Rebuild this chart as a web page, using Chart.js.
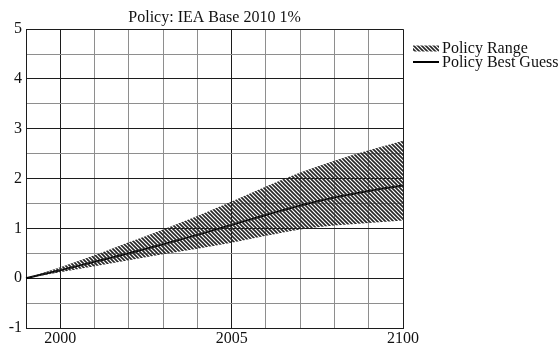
<!DOCTYPE html>
<html>
<head>
<meta charset="utf-8">
<script src="https://cdn.jsdelivr.net/npm/chart.js@4/dist/chart.umd.min.js"></script>
<style>
  html, body { margin: 0; padding: 0; background: #fff; }
  #wrap { width: 560px; height: 348px; }
</style>
</head>
<body>
<div id="wrap"><canvas id="c" width="560" height="348"></canvas></div>
<script>
// Decade steps along the horizontal axis
const years = ['1990', '2000', '2010', '2020', '2030', '2040', '2050', '2060', '2070', '2080', '2090', '2100'];
// Labels printed under the axis
const tickLabels = ['', '2000', '', '', '', '', '2005', '', '', '', '', '2100'];

// Central estimate
const bestGuess = [0, 0.16, 0.33, 0.50, 0.68, 0.87, 1.07, 1.27, 1.46, 1.62, 1.75, 1.86];
// Lower and upper bounds of the range
const rangeLow  = [0, 0.12, 0.24, 0.36, 0.48, 0.59, 0.71, 0.85, 0.98, 1.06, 1.11, 1.16];
const rangeHigh = [0, 0.22, 0.46, 0.72, 0.98, 1.25, 1.54, 1.84, 2.12, 2.36, 2.57, 2.76];

const SERIF = '"Liberation Serif", "Times New Roman", serif';
const DARK = '#1c1c1c';
const LIGHT = '#8e8e8e';

// Diagonal hatch used for the range band
function makeHatch() {
  const t = document.createElement('canvas');
  t.width = 4; t.height = 4;
  const g = t.getContext('2d');
  g.strokeStyle = '#262626';
  g.lineWidth = 1.6;
  g.beginPath();
  g.moveTo(0, 0); g.lineTo(4, 4);
  g.moveTo(-2, 2); g.lineTo(2, 6);
  g.moveTo(2, -2); g.lineTo(6, 2);
  g.stroke();
  return g.createPattern(t, 'repeat');
}
const hatch = makeHatch();

// Legend drawn to the right of the plot
const sideLegend = {
  id: 'sideLegend',
  afterDraw(chart) {
    const ctx = chart.ctx;
    const x0 = chart.chartArea.right + 10;
    const items = chart.data.datasets.filter(d => d.label);
    ctx.save();
    ctx.font = '16px ' + SERIF;
    ctx.textBaseline = 'alphabetic';
    items.forEach((d, i) => {
      const y = 48.5 + i * 13.5;
      if (d.fill) {
        ctx.fillStyle = d.backgroundColor;
        ctx.fillRect(x0, y - 3, 26, 6);
      } else {
        ctx.strokeStyle = d.borderColor;
        ctx.lineWidth = 2;
        ctx.beginPath();
        ctx.moveTo(x0, y);
        ctx.lineTo(x0 + 26, y);
        ctx.stroke();
      }
      ctx.fillStyle = '#111';
      ctx.fillText(d.label, x0 + 29, y + 4.5);
    });
    ctx.restore();
  }
};

new Chart(document.getElementById('c'), {
  type: 'line',
  data: {
    labels: years,
    datasets: [
      {
        data: rangeLow,
        borderWidth: 0,
        borderColor: 'rgba(0,0,0,0)',
        pointRadius: 0,
        fill: false,
        cubicInterpolationMode: 'monotone'
      },
      {
        label: 'Policy Range',
        data: rangeHigh,
        borderWidth: 0,
        borderColor: 'rgba(0,0,0,0)',
        backgroundColor: hatch,
        pointRadius: 0,
        fill: '-1',
        cubicInterpolationMode: 'monotone'
      },
      {
        label: 'Policy Best Guess',
        data: bestGuess,
        borderColor: '#000',
        borderWidth: 2,
        pointRadius: 0,
        fill: false,
        cubicInterpolationMode: 'monotone'
      }
    ]
  },
  options: {
    responsive: false,
    animation: false,
    layout: { padding: { right: 157 } },
    plugins: {
      legend: { display: false },
      tooltip: { enabled: false },
      title: {
        display: true,
        fullSize: false,
        text: 'Policy: IEA Base 2010 1%',
        color: '#111',
        font: { family: SERIF, size: 16, weight: 'normal' },
        padding: { top: 8, bottom: 2 }
      }
    },
    scales: {
      x: {
        type: 'category',
        offset: false,
        afterFit(scale) { scale.height = 20; },
        grid: {
          drawTicks: false,
          lineWidth: 1,
          color: c => (c.index === 0 || c.index === 1 || c.index === 6 || c.index === 11) ? DARK : LIGHT
        },
        border: { display: true, color: DARK, width: 1 },
        ticks: {
          autoSkip: false,
          maxRotation: 0,
          padding: 1,
          color: '#111',
          font: { family: SERIF, size: 16 },
          callback: (v, i) => tickLabels[i]
        }
      },
      y: {
        min: -1,
        max: 5,
        afterFit(scale) { scale.width = 26; },
        grid: {
          drawTicks: false,
          lineWidth: 1,
          color: c => Number.isInteger(c.tick.value) ? DARK : LIGHT
        },
        border: { display: true, color: DARK, width: 1 },
        ticks: {
          stepSize: 0.5,
          padding: 4,
          color: '#111',
          font: { family: SERIF, size: 16 },
          callback: v => Number.isInteger(v) ? String(v) : ''
        }
      }
    }
  },
  plugins: [sideLegend]
});
</script>
</body>
</html>
